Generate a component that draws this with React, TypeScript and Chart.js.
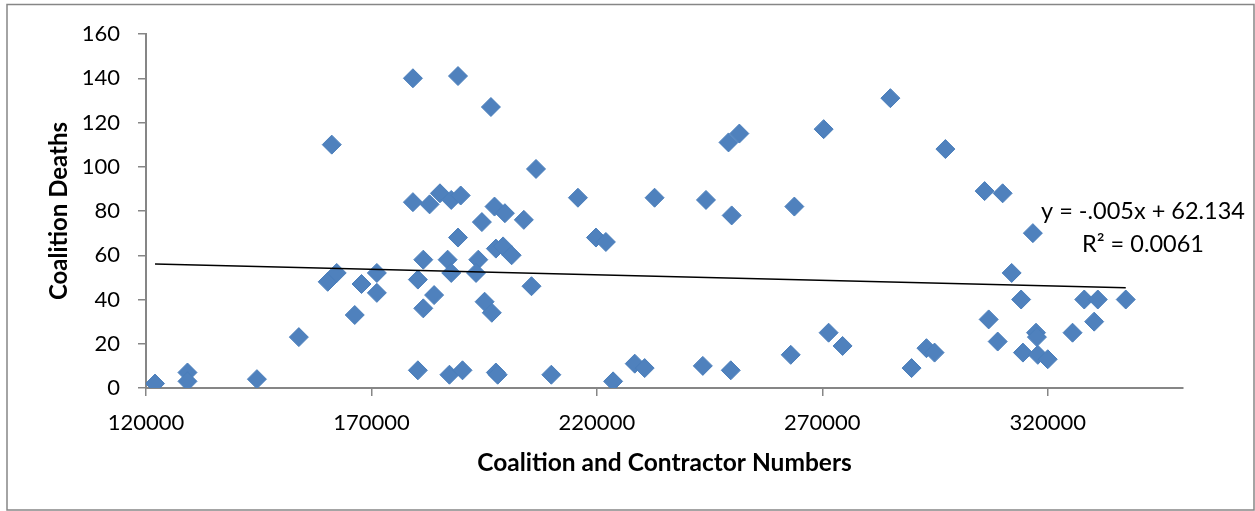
import React, { useEffect, useRef } from 'react';
import { Chart, registerables } from 'chart.js';

Chart.register(...registerables);

// Data
const contractorNumbers: number[] = [
  122000, 129200, 129200, 144600, 153900, 161200, 160300, 162300, 166300, 167800,
  171200, 171200, 179200, 189200, 196500, 179200, 182900, 185200, 187700, 189800,
  197300, 199600, 194500, 189200, 197600, 199200, 201100, 181500, 186900, 193700,
  180300, 187700, 193200, 183900, 181500, 195100, 196700, 180300, 187300, 190200,
  197600, 198000,
  206500, 203800, 215800, 232800, 244200, 249900, 249200, 251600, 270300, 263800,
  219800, 222000, 205500, 209900, 223600, 228400, 230600, 243500, 249700, 263000,
  271400, 274500,
  285100, 297300, 306000, 310000, 316700, 312000, 314100, 306900, 308900, 317400,
  317600, 314500, 317800, 320000, 325500, 328100, 331100, 330300, 337300, 293100,
  294900, 289800,
];
const coalitionDeaths: number[] = [
  2, 7, 3, 4, 23, 110, 48, 52, 33, 47,
  52, 43, 140, 141, 127, 84, 83, 88, 85, 87,
  82, 79, 75, 68, 63, 64, 60, 58, 58, 58,
  49, 52, 52, 42, 36, 39, 34, 8, 6, 8,
  7, 6,
  99, 76, 86, 86, 85, 78, 111, 115, 117, 82,
  68, 66, 46, 6, 3, 11, 9, 10, 8, 15,
  25, 19,
  131, 108, 89, 88, 70, 52, 40, 31, 21, 25,
  23, 16, 15, 13, 25, 40, 40, 30, 40, 18,
  16, 9,
];

const xTickValues: number[] = [120000, 170000, 220000, 270000, 320000];
const yTickValues: number[] = [0, 20, 40, 60, 80, 100, 120, 140, 160];
const xAxisMin = 120000;
const xAxisMax = 350000;
const yAxisMin = 0;
const yAxisMax = 160;

// Trendline as stated in the chart label
const trendSlope = -0.00005;
const trendIntercept = 62.134;
const equationLabel = 'y = -.005x + 62.134';
const rSquaredLabel = 'R\u00B2 = 0.0061';

const xAxisTitle = 'Coalition and Contractor Numbers';
const yAxisTitle = 'Coalition Deaths';

const FONT = 'Lato';
const AXIS_GREY = '#868686';
const MARKER_BLUE = '#4F81BD';

export default function App() {
  const canvasRef = useRef<HTMLCanvasElement | null>(null);

  useEffect(() => {
    const canvas = canvasRef.current;
    if (!canvas) return;

    const points = contractorNumbers.map((x, i) => ({ x, y: coalitionDeaths[i] }));
    const xMinData = Math.min(...contractorNumbers);
    const xMaxData = Math.max(...contractorNumbers);
    const trendPoints = [
      { x: xMinData, y: trendIntercept + trendSlope * xMinData },
      { x: xMaxData, y: trendIntercept + trendSlope * xMaxData },
    ];

    const frameAndLabels = {
      id: 'frameAndLabels',
      afterDraw(chart: any) {
        const ctx = chart.ctx as CanvasRenderingContext2D;
        ctx.save();
        ctx.strokeStyle = AXIS_GREY;
        ctx.lineWidth = 1.5;
        ctx.strokeRect(7, 4.5, 1247, 505.5);
        ctx.fillStyle = '#000';
        ctx.font = `23.5px ${FONT}`;
        ctx.textAlign = 'center';
        ctx.textBaseline = 'alphabetic';
        ctx.fillText(equationLabel, 1143, 218.5);
        ctx.fillText(rSquaredLabel, 1143, 252);
        ctx.restore();
      },
    };

    const chart = new Chart(canvas, {
      type: 'scatter',
      data: {
        datasets: [
          {
            label: 'Trend',
            data: trendPoints,
            showLine: true,
            borderColor: '#000000',
            borderWidth: 1.5,
            pointRadius: 0,
            fill: false,
            order: 0,
          } as any,
          {
            label: 'Coalition Deaths',
            data: points,
            pointStyle: 'rectRot',
            pointRadius: 9.5,
            backgroundColor: MARKER_BLUE,
            borderColor: '#4A7EBB',
            borderWidth: 1,
            order: 1,
          } as any,
        ],
      },
      options: {
        responsive: false,
        animation: false,
        devicePixelRatio: 1,
        layout: { padding: { top: 34, right: 72, left: 0, bottom: 0 } },
        plugins: {
          legend: { display: false },
          tooltip: { enabled: false },
        },
        scales: {
          x: {
            type: 'linear',
            min: xAxisMin,
            max: xAxisMax,
            afterBuildTicks: (scale: any) => {
              scale.ticks = xTickValues.map((v) => ({ value: v }));
            },
            afterFit: (scale: any) => {
              scale.height = 123;
            },
            grid: {
              drawOnChartArea: false,
              drawTicks: true,
              tickLength: 8,
              color: AXIS_GREY,
              lineWidth: 1.5,
            },
            border: { color: AXIS_GREY, width: 2 },
            ticks: {
              font: { family: FONT, size: 22 },
              color: '#000',
              padding: 14,
              maxRotation: 0,
              autoSkip: false,
              callback: (v: any) => String(v),
            },
            title: {
              display: true,
              text: xAxisTitle,
              color: '#000',
              font: { family: FONT, size: 24.5, weight: 'bold' },
              padding: { top: 0, bottom: 33.5 },
            },
          },
          y: {
            type: 'linear',
            min: yAxisMin,
            max: yAxisMax,
            afterBuildTicks: (scale: any) => {
              scale.ticks = yTickValues.map((v) => ({ value: v }));
            },
            afterFit: (scale: any) => {
              scale.width = 146;
            },
            grid: {
              drawOnChartArea: false,
              drawTicks: true,
              tickLength: 8,
              color: AXIS_GREY,
              lineWidth: 1.5,
            },
            border: { color: AXIS_GREY, width: 2 },
            ticks: {
              font: { family: FONT, size: 22 },
              color: '#000',
              padding: 18,
              autoSkip: false,
              callback: (v: any) => String(v),
            },
            title: {
              display: true,
              text: yAxisTitle,
              color: '#000',
              font: { family: FONT, size: 24, weight: 'bold' },
              padding: { top: 44.5, bottom: 0 },
            },
          },
        },
      } as any,
      plugins: [frameAndLabels],
    });

    return () => chart.destroy();
  }, []);

  return (
    <div style={{ position: 'absolute', left: 0, top: 0, width: 1255, height: 511, background: '#fff' }}>
      <canvas ref={canvasRef} width={1255} height={511} style={{ display: 'block', width: 1255, height: 511 }} />
    </div>
  );
}
